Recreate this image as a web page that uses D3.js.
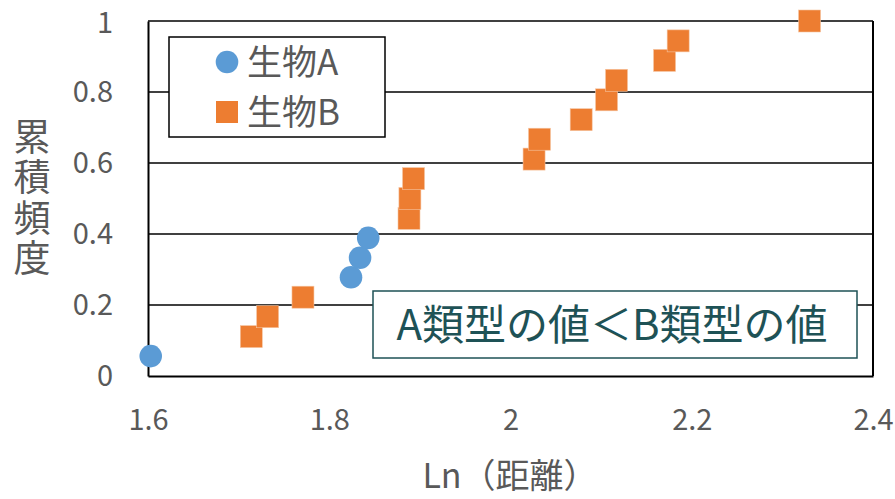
<!DOCTYPE html>
<html>
<head>
<meta charset="utf-8">
<script src="https://cdn.jsdelivr.net/npm/d3@7"></script>
<style>
  html, body { margin: 0; padding: 0; background: #fff; }
  svg { display: block; }
  text { font-family: "Noto Sans CJK JP", "Noto Sans", sans-serif; }
</style>
</head>
<body>
<svg id="chart" width="895" height="499"></svg>
<script>
// ---- data ----
const seriesNames = ["生物A", "生物B"];
const seriesAx = [1.603, 1.824, 1.834, 1.843];
const seriesAy = [0.056, 0.278, 0.333, 0.389];
const seriesBx = [1.714, 1.732, 1.771, 1.888, 1.889, 1.893, 2.026, 2.032, 2.078, 2.106, 2.117, 2.170, 2.185, 2.330];
const seriesBy = [0.111, 0.167, 0.222, 0.444, 0.500, 0.556, 0.611, 0.667, 0.722, 0.778, 0.833, 0.889, 0.944, 1.000];
const xTicks = [1.6, 1.8, 2.0, 2.2, 2.4];
const yTicks = [0, 0.2, 0.4, 0.6, 0.8, 1];
const xTitle = "Ln（距離）";
const yTitle = "累積頻度";
const annotation = "A類型の値＜B類型の値";

// ---- layout ----
const svg = d3.select("#chart");
const L = 148, R = 873, T = 21, B = 376;
const x = d3.scaleLinear().domain([1.6, 2.4]).range([L, R]);
const y = d3.scaleLinear().domain([0, 1]).range([B, T]);
const gray = "#595959";
const blue = "#5B9BD5", orange = "#ED7D31", teal = "#1E5256";

// gridlines
svg.append("g").selectAll("line").data(yTicks.filter(d => d > 0)).join("line")
  .attr("x1", L).attr("x2", R)
  .attr("y1", d => y(d)).attr("y2", d => y(d))
  .attr("stroke", "#000").attr("stroke-width", 1.5);

// axes
const xAxis = svg.append("g").attr("transform", `translate(0,${B})`)
  .call(d3.axisBottom(x).tickValues(xTicks).tickSize(0).tickPadding(33)
    .tickFormat(d => d3.format("")(+d.toFixed(1))));
xAxis.select(".domain").attr("stroke", "#000").attr("stroke-width", 2);
xAxis.selectAll("text").attr("font-size", 29).attr("fill", gray)
  .attr("font-family", "'Noto Sans CJK JP', sans-serif");

const yAxis = svg.append("g").attr("transform", `translate(${L},0)`)
  .call(d3.axisLeft(y).tickValues(yTicks).tickSize(0).tickPadding(35)
    .tickFormat(d => d3.format("")(+d.toFixed(1))));
yAxis.select(".domain").attr("stroke", "#000").attr("stroke-width", 2);
yAxis.selectAll("text").attr("font-size", 29).attr("fill", gray)
  .attr("font-family", "'Noto Sans CJK JP', sans-serif")
  .attr("dy", (d) => d === 1 ? "0.4em" : "0.32em");

// right border
svg.append("line").attr("x1", R).attr("x2", R).attr("y1", T).attr("y2", B)
  .attr("stroke", "#000").attr("stroke-width", 2);

// annotation box
const ann = svg.append("g");
ann.append("rect").attr("x", 373).attr("y", 291).attr("width", 484).attr("height", 67)
  .attr("fill", "#fff").attr("stroke", teal).attr("stroke-width", 1.5);
ann.append("text").attr("x", 612).attr("y", 325).attr("dy", "0.36em")
  .attr("text-anchor", "middle").attr("font-size", 42).attr("fill", teal).text(annotation);

// legend
const leg = svg.append("g");
leg.append("rect").attr("x", 169).attr("y", 37).attr("width", 216).attr("height", 100)
  .attr("fill", "#fff").attr("stroke", "#000").attr("stroke-width", 1.5);
leg.append("circle").attr("cx", 227).attr("cy", 62).attr("r", 11.3).attr("fill", blue);
leg.append("rect").attr("x", 216).attr("y", 101).attr("width", 22).attr("height", 22).attr("fill", orange);
leg.selectAll("text.lg").data(seriesNames).join("text").attr("class", "lg")
  .attr("x", 247).attr("y", (d, i) => 62 + i * 50).attr("dy", "0.36em")
  .attr("font-size", 35).attr("fill", gray).text(d => d);

// series B squares
const bData = seriesBx.map((v, i) => [v, seriesBy[i]]);
svg.append("g").selectAll("rect").data(bData).join("rect")
  .attr("x", d => x(d[0]) - 11).attr("y", d => y(d[1]) - 11)
  .attr("width", 22).attr("height", 22).attr("fill", orange)
  .attr("stroke", "#F6C5A2").attr("stroke-width", 0.6);

// series A circles
const aData = seriesAx.map((v, i) => [v, seriesAy[i]]);
svg.append("g").selectAll("circle").data(aData).join("circle")
  .attr("cx", d => x(d[0])).attr("cy", d => y(d[1])).attr("r", 11.3)
  .attr("fill", blue);

// axis titles
svg.append("text").attr("x", 510).attr("y", 476).attr("dy", "0.36em")
  .attr("text-anchor", "middle").attr("font-size", 34).attr("fill", gray).text(xTitle);
svg.append("text").attr("x", 32).attr("y", 118)
  .style("writing-mode", "vertical-rl").attr("text-anchor", "start")
  .attr("font-size", 37).attr("letter-spacing", 3.5).attr("fill", gray).text(yTitle);
</script>
</body>
</html>
